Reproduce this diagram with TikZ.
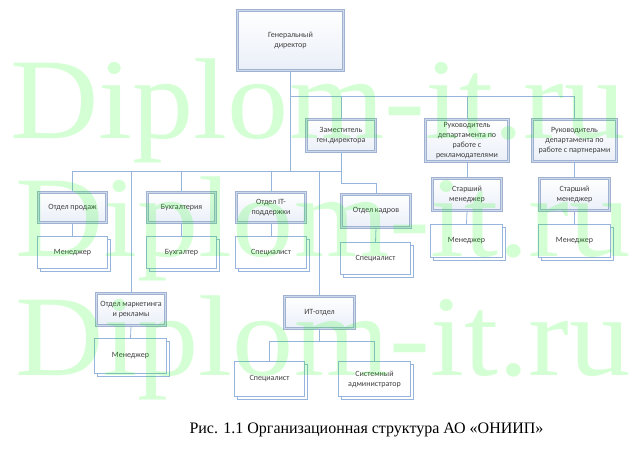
\documentclass[tikz,border=0pt]{standalone}
\usepackage{fontspec}
\setmainfont{Carlito}
\newfontfamily\capfont{Liberation Serif}
\usetikzlibrary{shadows}
\definecolor{bordark}{RGB}{160,178,208}
\definecolor{borlight}{RGB}{205,218,237}
\definecolor{boxbot}{RGB}{234,239,248}
\definecolor{conncol}{RGB}{150,180,220}
\definecolor{txt}{RGB}{64,64,64}
\definecolor{wm}{RGB}{0,255,0}
\begin{document}
\begin{tikzpicture}[x=1pt,y=-1pt,
  box/.style={rectangle, draw=bordark, line width=0.5pt, double=borlight, double distance=1.8pt,
    top color=white, bottom color=boxbot, text=txt, align=center,
    font=\fontsize{8}{10}\selectfont, inner sep=0pt},
  sbox/.style={rectangle, draw=conncol, line width=0.6pt, fill=white,
    copy shadow={shadow xshift=3pt, shadow yshift=-3pt}, text=txt, align=center,
    font=\fontsize{8}{10}\selectfont, inner sep=0pt},
  conn/.style={draw=conncol, line width=0.8pt},
  wmark/.style={anchor=base west, inner sep=0pt, text=wm, text opacity=0.17,
    font=\capfont\fontsize{115}{115}\selectfont}]
\useasboundingbox (0,0) rectangle (637,460);
\fill[white] (0,0) rectangle (637,460);

\coordinate (busT) at (0,96);
\coordinate (busL) at (0,171);
\coordinate (busK) at (0,183);
\coordinate (busI) at (0,341);

% nodes
\node[box, minimum width=106pt, minimum height=60pt] (gen) at (290.5,40.5) {Генеральный\\директор};
\node[box, minimum width=69pt, minimum height=32pt] (zam) at (341,135.5) {Заместитель\\ген.директора};
\node[box, minimum width=83pt, minimum height=42pt] (ruk1) at (467,140.5) {Руководитель\\департамента по\\работе с\\рекламодателями};
\node[box, minimum width=84pt, minimum height=42pt] (ruk2) at (574.5,140.5) {Руководитель\\департамента по\\работе с партнерами};
\node[box, minimum width=69pt, minimum height=32pt] (st1) at (467,194.5) {Старший\\менеджер};
\node[box, minimum width=70pt, minimum height=32pt] (st2) at (574.5,194.5) {Старший\\менеджер};
\node[sbox, minimum width=72pt, minimum height=33pt] (men1) at (466.5,241) {Менеджер};
\node[sbox, minimum width=72pt, minimum height=33pt] (men2) at (574.5,241) {Менеджер};
\node[box, minimum width=69pt, minimum height=33pt] (kadry) at (376,211) {Отдел кадров};
\node[sbox, minimum width=70pt, minimum height=32pt] (speck) at (375.5,258.5) {Специалист};
\node[box, minimum width=68pt, minimum height=30pt] (prod) at (72.5,207.5) {Отдел продаж};
\node[sbox, minimum width=70pt, minimum height=32pt] (menp) at (72.5,252.5) {Менеджер};
\node[box, minimum width=68pt, minimum height=30pt] (buh) at (181.5,207.5) {Бухгалтерия};
\node[sbox, minimum width=70pt, minimum height=32pt] (buhg) at (181.5,252.5) {Бухгалтер};
\node[box, minimum width=69pt, minimum height=30pt] (itp) at (271,207.5) {Отдел IT-\\поддержки};
\node[sbox, minimum width=71pt, minimum height=32pt] (specp) at (271,252.5) {Специалист};
\node[box, minimum width=69pt, minimum height=32pt] (mark) at (131,309.5) {Отдел маркетинга\\и рекламы};
\node[sbox, minimum width=72pt, minimum height=35pt] (menm) at (130.5,356) {Менеджер};
\node[box, minimum width=70pt, minimum height=32pt] (itdep) at (319.5,312.5) {ИТ-отдел};
\node[sbox, minimum width=70pt, minimum height=35pt] (spec2) at (269.5,379) {Специалист};
\node[sbox, minimum width=72pt, minimum height=35pt] (sysadm) at (374.5,379) {Системный\\администратор};

% connectors
\draw[conn] (gen.south) -- (gen.south |- busL);
\draw[conn] (gen.south |- busT) -| (zam.north);
\draw[conn] (gen.south |- busT) -| (ruk2.north);
\draw[conn] (ruk1.north) -- (ruk1.north |- busT);
\draw[conn] (ruk1.south) -- (st1.north);
\draw[conn] (st1.south) -- (men1.north);
\draw[conn] (ruk2.south) -- (st2.north);
\draw[conn] (st2.south) -- (men2.north);
\draw[conn] (zam.south) -- (zam.south |- busK) -| (kadry.north);
\draw[conn] (kadry.south) -- (speck.north);
\draw[conn] (prod.north) |- (zam.south |- busL);
\draw[conn] (prod.south) -- (menp.north);
\draw[conn] (buh.north) -- (buh.north |- busL);
\draw[conn] (buh.south) -- (buhg.north);
\draw[conn] (itp.north) -- (itp.north |- busL);
\draw[conn] (itp.south) -- (specp.north);
\draw[conn] (mark.north) -- (mark.north |- busL);
\draw[conn] (mark.south) -- (menm.north);
\draw[conn] (itdep.north) -- (itdep.north |- busL);
\draw[conn] (itdep.south) -- (itdep.south |- busI) -| (spec2.north);
\draw[conn] (itdep.south |- busI) -| (sysadm.north);

% caption
\node[anchor=base, inner sep=0pt, font=\capfont\fontsize{16}{16}\selectfont] (cap) at (366.5,433) {Рис. 1.1 Организационная структура АО «ОНИИП»};

% watermark
\node[wmark] (wm1) at (10,138) {\scalebox{1.065}[1]{Diplom-it.ru}};
\node[wmark] (wm2) at (15,256) {\scalebox{1.065}[1]{Diplom-it.ru}};
\node[wmark] (wm3) at (15,375) {\scalebox{1.065}[1]{Diplom-it.ru}};
\end{tikzpicture}
\end{document}
